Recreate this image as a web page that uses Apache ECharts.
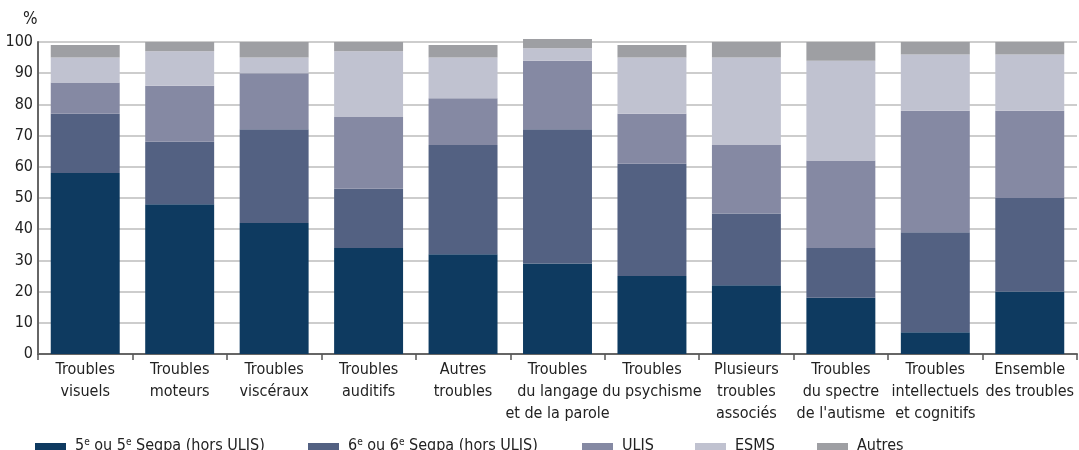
<!DOCTYPE html>
<html><head><meta charset="utf-8">
<script src="https://cdn.jsdelivr.net/npm/echarts@6/dist/echarts.min.js"></script>
<style>html,body{margin:0;padding:0;background:#fff}#c{width:1079px;height:450px}</style>
</head><body><div id="c"></div>
<script>
const categories = ["Troubles\nvisuels","Troubles\nmoteurs","Troubles\nviscéraux","Troubles\nauditifs","Autres\ntroubles","Troubles\ndu langage\net de la parole","Troubles\ndu psychisme","Plusieurs\ntroubles\nassociés","Troubles\ndu spectre\nde l'autisme","Troubles\nintellectuels\net cognitifs","Ensemble\ndes troubles"];
const seriesNames = ["5e ou 5e Segpa (hors ULIS)","6e ou 6e Segpa (hors ULIS)","ULIS","ESMS","Autres"];
const cinquieme = [58,48,42,34,32,29,25,22,18,7,20];
const sixieme   = [19,20,30,19,35,43,36,23,16,32,30];
const ulis      = [10,18,18,23,15,22,16,22,28,39,28];
const esms      = [8,11,5,21,13,4,18,28,32,18,18];
const autres    = [4,3,5,3,4,3,4,5,6,4,4];
const yTicks = [0,10,20,30,40,50,60,70,80,90,100];

const colors = ["#0e3a60","#536182","#8589a3","#c0c2d0","#9e9fa3"];
const values = [cinquieme, sixieme, ulis, esms, autres];
const FONT = "'Liberation Sans Narrow','DejaVu Sans Condensed','Roboto Condensed',sans-serif";
const legendLeft = [35,308,582,695,817];
const legendIcon = 'path://M0,0L0,0M0,9L31,9L31,24L0,24Z';

const chart = echarts.init(document.getElementById('c'), null, {renderer:'canvas'});
chart.setOption({
  animation:false,
  title:{text:'%', left:18, top:6, textStyle:{fontFamily:FONT, fontSize:17, fontWeight:'normal', color:'#222'}},
  legend: seriesNames.map((n,i)=>({
    data:[n], left:legendLeft[i], top:434, padding:0, itemWidth:31, itemHeight:24, icon:legendIcon,
    selectedMode:false,
    formatter: name => name.replace(/(\d)e /g, '$1{s|e} '),
    textStyle:{fontFamily:FONT, fontSize:16, color:'#222', padding:[0,0,0,4], lineHeight:18,
      rich:{s:{fontFamily:FONT, fontSize:10, color:'#222', verticalAlign:'top', lineHeight:18}}}
  })),
  grid:{left:38, right:2, top:42, bottom:96, containLabel:false},
  xAxis:{type:'category', data:categories,
    axisLine:{show:true, lineStyle:{color:'#666', width:2}},
    axisTick:{show:true, length:6, lineStyle:{color:'#555', width:1.5}},
    axisLabel:{fontFamily:FONT, fontSize:16, color:'#222', lineHeight:22, margin:5, interval:0}
  },
  yAxis:{type:'value', min:0, max:100, interval:10,
    axisLine:{show:true, lineStyle:{color:'#666', width:2}},
    axisTick:{show:false},
    splitLine:{show:true, lineStyle:{color:'#bdbdbd', width:1.6}},
    axisLabel:{fontFamily:FONT, fontSize:16, color:'#222', margin:5,
      formatter: v => yTicks.includes(v) ? String(v) : ''}
  },
  series: seriesNames.map((n,i)=>({
    name:n, type:'bar', stack:'total', data:values[i], barWidth:'73%', clip:false,
    itemStyle:{color:colors[i]}, emphasis:{disabled:true}
  }))
});
</script></body></html>
